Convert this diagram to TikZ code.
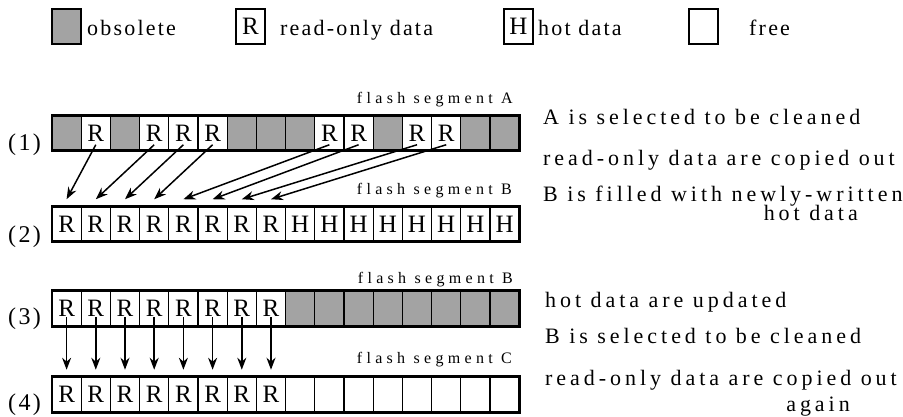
\documentclass[tikz,border=0pt]{standalone}
\usepackage{fontspec}
\newfontfamily\plainrm{Liberation Serif}
\newfontfamily\keyrm[LetterSpace=10]{Liberation Serif}
\newfontfamily\noterm[LetterSpace=18]{Liberation Serif}
\newfontfamily\tagrm[LetterSpace=10]{Liberation Serif}
\newfontfamily\segrm[LetterSpace=27]{Liberation Serif}
\usetikzlibrary{arrows.meta}

\begin{document}
\begin{tikzpicture}[x=1pt,y=-1pt,
  cell/.style={draw,line width=1.3pt,minimum width=29.2pt,minimum height=35.5pt,
    inner sep=0pt,outer sep=0pt,font=\plainrm\fontsize{25}{25}\selectfont},
  ko/.style={fill=black!36,node contents={}},
  kr/.style={node contents=R},
  kh/.style={node contents=H},
  kf/.style={node contents={}},
  keybox/.style={cell,line width=2pt},
  frame/.style={line width=2.8pt},
  mv/.style={-{Stealth[length=12pt,width=9pt]},line width=1.5pt},
  seg/.style={anchor=base east,inner sep=0pt,font=\segrm\fontsize{16}{16}\selectfont},
  note/.style={anchor=base west,inner sep=0pt,font=\noterm\fontsize{22}{22}\selectfont},
  keytxt/.style={anchor=base west,inner sep=0pt,font=\keyrm\fontsize{22}{22}\selectfont},
  tag/.style={anchor=base west,inner sep=0pt,font=\tagrm\fontsize{24}{24}\selectfont}]
\useasboundingbox (0,0) rectangle (903,417);

% key
\node (kobs) at (66.5,26.5) [keybox,ko];
\node[keytxt] (tobs) at (87,36) {obsolete};
\node (kread) at (250.5,26.5) [keybox,kr];
\node[keytxt] (tread) at (280,36) {read-only data};
\node (khot) at (518.5,26.5) [keybox,kh];
\node[keytxt] (thot) at (538,36) {hot data};
\node (kfree) at (703.5,26.5) [keybox,kf];
\node[keytxt] (tfree) at (749,36) {free};

% the four segments
\foreach \t [count=\i from 0] in {o,r,o,r,r,r,o,o,o,r,r,o,r,r,o,o}
  \node (a\i) at ({52+29.2*(\i+0.5)},133) [cell,k\t];
\foreach \t [count=\i from 0] in {r,r,r,r,r,r,r,r,h,h,h,h,h,h,h,h}
  \node (b\i) at ({52+29.2*(\i+0.5)},224) [cell,k\t];
\foreach \t [count=\i from 0] in {r,r,r,r,r,r,r,r,o,o,o,o,o,o,o,o}
  \node (c\i) at ({52+29.2*(\i+0.5)},308.5) [cell,k\t];
\foreach \t [count=\i from 0] in {r,r,r,r,r,r,r,r,f,f,f,f,f,f,f,f}
  \node (d\i) at ({52+29.2*(\i+0.5)},394.5) [cell,k\t];
\foreach \r in {a,b,c,d}
  \draw[frame] (\r0.north west) rectangle (\r15.south east);

\node[seg] (sa) at (513,104) {flash segment A};
\node[seg] (sb) at (512,195) {flash segment B};
\node[seg] (sb2) at (513,283) {flash segment B};
\node[seg] (sc) at (512,363) {flash segment C};

\node[tag] (n1) at (8,151) {(1)};
\node[tag] (n2) at (8,242) {(2)};
\node[tag] (n3) at (8,324) {(3)};
\node[tag] (n4) at (8,410) {(4)};

% copying the read-only data
\foreach \s/\d in {1/0,3/1,4/2,5/3,9/4,10/5,12/6,13/7}
  \draw[mv] ([yshift=6pt]a\s.south) -- ([yshift=7pt]b\d.north);
\foreach \i in {0,...,7}
  \draw[mv] ([yshift=9pt]c\i.south) -- ([yshift=7pt]d\i.north);

\node[note] (m1) at (543,125) {A is selected to be cleaned};
\node[note] (m2) at (543,166) {read-only data are copied out};
\node[note] (m3) at (543,202) {B is filled with newly-written};
\node[note,anchor=base east] (m3b) at (858,221) {hot data};
\node[note] (m4) at (545,307) {hot data are updated};
\node[note] (m5) at (545,343) {B is selected to be cleaned};
\node[note] (m6) at (545,385) {read-only data are copied out};
\node[note,anchor=base east] (m6b) at (850,411) {again};
\end{tikzpicture}
\end{document}
